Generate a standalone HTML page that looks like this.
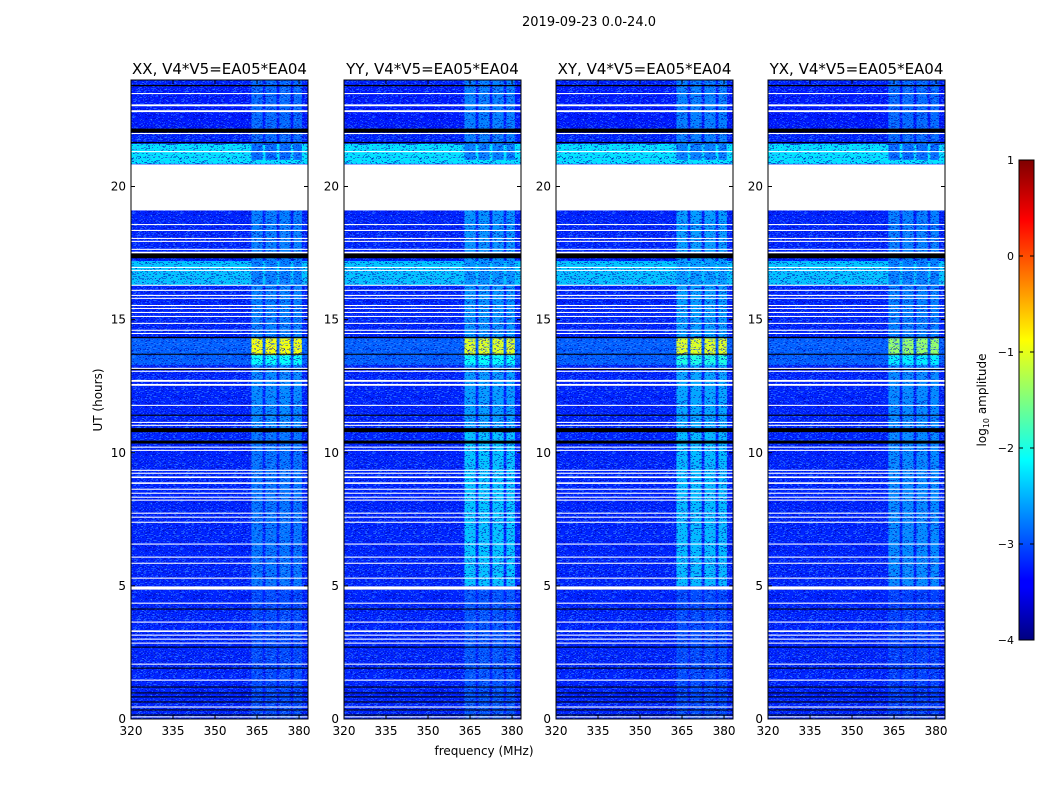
<!DOCTYPE html>
<html><head><meta charset="utf-8"><style>
body{margin:0;background:#fff;}
svg{display:block;font-family:"DejaVu Sans","Liberation Sans",sans-serif;}
</style></head><body>
<svg id="fig" width="1050" height="800" xmlns="http://www.w3.org/2000/svg">
<defs>
<linearGradient id="jet" x1="0" y1="1" x2="0" y2="0">
<stop offset="0" stop-color="#00007f"/><stop offset="0.11" stop-color="#0000ff"/><stop offset="0.125" stop-color="#0000ff"/>
<stop offset="0.375" stop-color="#00ffff"/><stop offset="0.5" stop-color="#7fff7f"/><stop offset="0.625" stop-color="#ffff00"/>
<stop offset="0.875" stop-color="#ff0000"/><stop offset="1" stop-color="#7f0000"/>
</linearGradient>
<pattern id="noise" width="48" height="48" patternUnits="userSpaceOnUse"><g id="noiseg"></g></pattern>
</defs>
<text x="589" y="26" font-size="13" text-anchor="middle">2019-09-23 0.0-24.0</text>
<text x="484" y="755" font-size="12" text-anchor="middle">frequency (MHz)</text>
<text transform="translate(102,400) rotate(-90)" font-size="12" text-anchor="middle">UT (hours)</text>
<g id="panels"></g>
<g id="cbar"></g>
</svg>
<script>
const panelNames = ["XX, V4*V5=EA05*EA04","YY, V4*V5=EA05*EA04","XY, V4*V5=EA05*EA04","YX, V4*V5=EA05*EA04"];
const freqTicks = [320,335,350,365,380];
const timeTicks = [0,5,10,15,20];
const cbarTicks = [1,0,-1,-2,-3,-4];
// background level segments: [t0,t1,log10 amp]
const bgSegments = [[0,24,-3.2],[20.85,21.6,-2.25],[16.3,17.2,-2.4],[13.3,14.3,-2.9],[22.0,23.8,-3.25]];
// RFI frequency blocks (MHz)
const rfiBands = [[363,367],[368,372],[373,377],[378,381]];
// RFI time regions (hours)
const rfiTimes = [[0,5],[5,10.9],[10.9,13.3],[13.66,14.3],[13.3,13.66],[14.3,19.1],[21,24]];
// RFI levels per panel per time region
const rfiLevels = [
 [-3.0,-2.8,-2.7,-0.95,-2.1,-2.75,-2.85],
 [-2.95,-2.4,-2.6,-1.05,-2.1,-2.65,-2.75],
 [-3.0,-2.45,-2.55,-1.05,-2.0,-2.6,-2.75],
 [-3.05,-2.7,-2.7,-1.4,-2.2,-2.75,-2.85]];
// flagged (white) rows: [hour, thickness hours]
const whiteRows = [[23.49,.04],[23.05,.07],[22.83,.07],[21.99,.04],[21.31,.04],[18.57,.04],[18.35,.04],[18.05,.04],[17.94,.04],[17.64,.04],[17.52,.06],[16.96,.04],[16.85,.04],[16.29,.04],[16.1,.04],[15.91,.04],[15.8,.04],[15.53,.04],[15.42,.04],[15.27,.04],[15.12,.04],[14.86,.04],[14.6,.04],[14.48,.04],[13.17,.04],[13.06,.04],[12.7,.07],[12.55,.07],[11.78,.04],[11.14,.04],[11.03,.04],[10.21,.04],[10.09,.04],[9.34,.04],[9.23,.04],[9.08,.06],[8.86,.06],[8.63,.04],[8.48,.04],[8.33,.04],[8.22,.04],[7.73,.04],[7.58,.04],[7.39,.04],[6.57,.04],[6.08,.04],[5.85,.04],[5.29,.04],[4.92,.12],[4.35,.04],[3.64,.04],[3.30,.06],[3.15,.04],[3.0,.04],[2.85,.04],[2.06,.04],[1.46,.04],[0.45,.04],[0.08,.04]];
// zero-amplitude (black) rows
const blackRows = [[23.79,.05],[22.1,.15],[21.65,.05],[17.4,.19],[14.33,.05],[13.7,.04],[13.13,.04],[11.41,.04],[10.85,.15],[10.4,.11],[4.13,.04],[2.7,.04],[1.91,.04],[1.2,.04],[0.98,.04],[0.83,.04],[0.64,.04],[0.34,.04],[0.15,.04]];
// fully flagged gap
const gaps = [[19.1,20.83]];

const NS="http://www.w3.org/2000/svg";
const lefts=[131,344,556,768], PW=177, TOP=80, BOT=719;
const fMin=320, fMax=383.2, tMin=0, tMax=24;
function xs(i,f){return lefts[i]+(f-fMin)/(fMax-fMin)*PW;}
function ys(t){return BOT-(t-tMin)/(tMax-tMin)*(BOT-TOP);}
function jet(v){let x=(v+4)/5;x=Math.max(0,Math.min(1,x));
 const c=(a)=>Math.round(255*Math.max(0,Math.min(1,a)));
 const r=c(1.5-Math.abs(4*x-3)),g=c(1.5-Math.abs(4*x-2)),b=c(1.5-Math.abs(4*x-1));
 return `rgb(${r},${g},${b})`;}
function el(tag,attrs,parent){const e=document.createElementNS(NS,tag);for(const k in attrs)e.setAttribute(k,attrs[k]);parent.appendChild(e);return e;}
// noise texture
let seed=7;function rnd(){seed=(seed*16807)%2147483647;return seed/2147483647;}
const ng=document.getElementById('noiseg');
for(let i=0;i<800;i++){const v=rnd();el('rect',{x:Math.floor(rnd()*48),y:Math.floor(rnd()*48),width:1+Math.floor(rnd()*2),height:1,fill:v<0.5?'#0000b0':'#3a8cff',opacity:0.4},ng);}
const panels=document.getElementById('panels');
for(let p=0;p<4;p++){
 const g=el('g',{},panels);
 
 
 const L=lefts[p];
 const hm=el('g',{},g);
 
 
 bgSegments.forEach(s=>{el('rect',{x:L,y:ys(s[1]),width:PW,height:ys(s[0])-ys(s[1]),fill:jet(s[2])},hm);});
 rfiBands.forEach(b=>{rfiTimes.forEach((t,k)=>{const r=el('rect',{x:xs(p,b[0]),y:ys(t[1]),width:xs(p,b[1])-xs(p,b[0]),height:ys(t[0])-ys(t[1]),fill:jet(rfiLevels[p][k])},hm);
  
  });});
 el('rect',{x:L,y:TOP,width:PW,height:BOT-TOP,fill:'url(#noise)'},hm);
 blackRows.forEach(r=>{el('rect',{x:L,y:ys(r[0]+r[1]/2),width:PW,height:Math.max(1,r[1]*(BOT-TOP)/24),fill:'#000'},hm);});
 whiteRows.forEach(r=>{el('rect',{x:L,y:ys(r[0]+r[1]/2),width:PW,height:Math.max(1,r[1]*(BOT-TOP)/24),fill:'#fff'},hm);});
 gaps.forEach(r=>{el('rect',{x:L,y:ys(r[1]),width:PW,height:ys(r[0])-ys(r[1]),fill:'#fff'},hm);});
 el('rect',{x:L,y:TOP,width:PW,height:BOT-TOP,fill:'none',stroke:'#000','stroke-width':1},g);
 const tt=el('text',{x:L+PW/2,y:TOP-6,'font-size':15,'text-anchor':'middle'},g);tt.textContent=panelNames[p];
 
 
 freqTicks.forEach(f=>{const x=xs(p,f);el('line',{x1:x,x2:x,y1:BOT,y2:BOT-4,stroke:'#000'},g);el('line',{x1:x,x2:x,y1:TOP,y2:TOP+4,stroke:'#000'},g);
  const t=el('text',{x:x,y:BOT+16,'font-size':12,'text-anchor':'middle'},g);t.textContent=f;
  
  });
 timeTicks.forEach(h=>{const y=ys(h);el('line',{x1:L,x2:L+4,y1:y,y2:y,stroke:'#000'},g);el('line',{x1:L+PW,x2:L+PW-4,y1:y,y2:y,stroke:'#000'},g);
  const t=el('text',{x:L-5,y:y+4,'font-size':12,'text-anchor':'end'},g);t.textContent=h;
  
  });
}
const cb=document.getElementById('cbar');
const CX=1019,CW=15,CT=160,CB=640;
el('rect',{x:CX,y:CT,width:CW,height:CB-CT,fill:'url(#jet)',stroke:'#000'},cb);
cbarTicks.forEach(v=>{const y=CB-(v+4)/5*(CB-CT);el('line',{x1:CX,x2:CX+4,y1:y,y2:y,stroke:'#000'},cb);el('line',{x1:CX+CW,x2:CX+CW-4,y1:y,y2:y,stroke:'#000'},cb);
 const t=el('text',{x:CX-5,y:y+4,'font-size':11,'text-anchor':'end'},cb);t.textContent=(v<0?'\u2212'+(-v):v);
 
 });
const lab=el('text',{transform:'translate(986,400) rotate(-90)','font-size':12,'text-anchor':'middle'},cb);
lab.innerHTML='log<tspan font-size="8" dy="3">10</tspan><tspan dy="-3"> amplitude</tspan>';


</script>
</body></html>
